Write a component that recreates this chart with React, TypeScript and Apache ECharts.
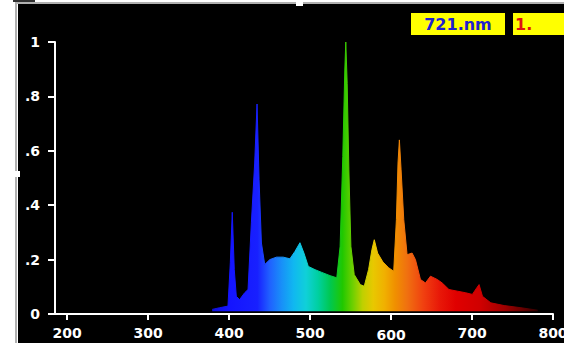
import React, { useEffect, useRef } from 'react';
import * as echarts from 'echarts';

// Spectrum: wavelength (nm) vs relative intensity
const wavelengths = [
  379.1, 388.2, 398.6, 401.5, 403.9, 406.4, 408.9, 413.0, 419.2, 423.4,
  427.5, 431.6, 434.5, 437.0, 439.9, 444.0, 450.3, 458.5, 466.8, 475.1,
  481.3, 487.5, 492.4, 497.8, 506.1, 514.4, 524.7, 533.0, 537.1, 540.4,
  542.9, 544.1, 545.8, 547.9, 550.4, 554.5, 562.0, 566.9, 572.3, 576.4,
  579.3, 583.4, 590.0, 597.0, 603.3, 606.6, 608.6, 610.3, 612.4, 615.7,
  619.8, 626.0, 630.1, 636.3, 642.5, 648.7, 657.0, 663.2, 671.5, 681.8,
  692.2, 700.4, 705.8, 708.7, 712.9, 723.2, 739.7, 760.4, 781.1,
];
const intensities = [
  0.017, 0.023, 0.029, 0.188, 0.374, 0.163, 0.065, 0.053, 0.078, 0.09,
  0.335, 0.555, 0.772, 0.494, 0.261, 0.182, 0.2, 0.209, 0.209, 0.203,
  0.23, 0.262, 0.224, 0.175, 0.163, 0.153, 0.141, 0.133, 0.249, 0.579,
  0.897, 1.0, 0.848, 0.53, 0.249, 0.145, 0.108, 0.102, 0.164, 0.237,
  0.273, 0.224, 0.191, 0.17, 0.157, 0.347, 0.555, 0.64, 0.53, 0.347,
  0.218, 0.224, 0.2, 0.127, 0.114, 0.139, 0.127, 0.114, 0.09, 0.084,
  0.078, 0.072, 0.096, 0.108, 0.065, 0.041, 0.031, 0.023, 0.014,
];

const xTickValues = [200, 300, 400, 500, 600, 700, 800];
const yTickValues = [0, 0.2, 0.4, 0.6, 0.8, 1];
const yTickLabels = ['0', '.2', '.4', '.6', '.8', '1'];

// wavelength -> displayed colour
const colourNm = [379, 400, 435, 450, 465, 480, 495, 510, 525, 540, 553, 565, 578, 592, 605, 620, 640, 660, 680, 710, 740, 765, 781];
const colourHex = [
  '#1010d8', '#1414ff', '#1820ff', '#2060ff', '#1890f8', '#10b8f0', '#10d0d8', '#00d0a0',
  '#00c850', '#20c800', '#70d000', '#c0d000', '#e8c800', '#f0b000', '#f09000', '#f07010',
  '#f04010', '#e81808', '#e00000', '#d00000', '#a00000', '#600000', '#300000',
];

const readoutText = '721.nm';
const readoutValue = '1.';

const FONT = '"DejaVu Sans", "Liberation Sans", Arial, sans-serif';

export default function App() {
  const ref = useRef<HTMLDivElement>(null);

  useEffect(() => {
    if (!ref.current) return;
    const chart = echarts.init(ref.current, null, { renderer: 'svg' });
    const first = wavelengths[0];
    const last = wavelengths[wavelengths.length - 1];
    const stops = colourNm.map((nm, i) => ({
      offset: Math.min(1, Math.max(0, (nm - first) / (last - first))),
      color: colourHex[i],
    }));
    const grad = () => new echarts.graphic.LinearGradient(0, 0, 1, 0, stops);

    const labelStyle = {
      color: '#ffffff',
      fontFamily: FONT,
      fontWeight: 'bold' as const,
      fontSize: 14,
    };

    chart.setOption({
      animation: false,
      backgroundColor: '#000000',
      grid: {
        left: 55,
        right: 11,
        top: 42,
        bottom: 29,
        containLabel: false,
        outerBoundsMode: 'none',
      },
      xAxis: {
        type: 'value',
        min: 185,
        max: 800,
        axisLine: { show: true, lineStyle: { color: '#ffffff', width: 2 } },
        axisTick: {
          show: true,
          customValues: xTickValues,
          length: 6,
          lineStyle: { color: '#ffffff', width: 2 },
        },
        axisLabel: {
          customValues: xTickValues,
          margin: 12,
          hideOverlap: false,
          ...labelStyle,
          formatter: (v: number) => (v === 600 ? `{low|${v}}` : `{std|${v}}`),
          rich: {
            std: { ...labelStyle },
            low: { ...labelStyle, padding: [2, 0, 0, 0] },
          },
        },
        splitLine: { show: false },
      },
      yAxis: {
        type: 'value',
        min: 0,
        max: 1,
        interval: 0.2,
        axisLine: { show: true, lineStyle: { color: '#ffffff', width: 2 } },
        axisTick: { show: true, length: 7, lineStyle: { color: '#ffffff', width: 2 } },
        axisLabel: {
          margin: 15,
          ...labelStyle,
          formatter: (v: number) => {
            const idx = yTickValues.findIndex((t) => Math.abs(t - v) < 1e-6);
            return idx >= 0 ? yTickLabels[idx] : '';
          },
        },
        splitLine: { show: false },
      },
      series: [
        {
          type: 'line',
          data: wavelengths.map((w, i) => [w, intensities[i]]),
          showSymbol: false,
          smooth: false,
          lineStyle: { width: 1, color: grad() },
          areaStyle: { color: grad(), opacity: 1, origin: 0.01 },
          z: 3,
        },
      ],
      graphic: [
        // page margin around the black panel
        { type: 'rect', shape: { x: 0, y: 0, width: 15, height: 343 }, style: { fill: '#ffffff' }, z: 10 },
        { type: 'rect', shape: { x: 0, y: 0, width: 564, height: 2 }, style: { fill: '#ffffff' }, z: 10 },
        { type: 'rect', shape: { x: 15, y: 2, width: 2, height: 341 }, style: { fill: '#b0b0b0' }, z: 10 },
        { type: 'rect', shape: { x: 17, y: 2, width: 547, height: 2 }, style: { fill: '#b0b0b0' }, z: 10 },
        { type: 'rect', shape: { x: 17, y: 4, width: 1, height: 339 }, style: { fill: '#ffffff' }, z: 10 },
        { type: 'rect', shape: { x: 13, y: 0, width: 22, height: 2 }, style: { fill: '#303030' }, z: 11 },
        // selection handles
        { type: 'rect', shape: { x: 296, y: 0, width: 7, height: 6 }, style: { fill: '#ffffff' }, z: 11 },
        { type: 'rect', shape: { x: 14, y: 171, width: 6, height: 6 }, style: { fill: '#ffffff' }, z: 11 },
        // readout boxes
        { type: 'rect', shape: { x: 411, y: 13, width: 94, height: 22 }, style: { fill: '#ffff00' }, z: 10 },
        { type: 'rect', shape: { x: 513, y: 13, width: 60, height: 22 }, style: { fill: '#ffff00' }, z: 10 },
        {
          type: 'text',
          x: 458,
          y: 24,
          z: 12,
          style: {
            text: readoutText,
            fill: '#2020d0',
            fontFamily: FONT,
            fontWeight: 'bold',
            fontSize: 16,
            align: 'center',
            verticalAlign: 'middle',
          },
        },
        {
          type: 'text',
          x: 515,
          y: 24,
          z: 12,
          style: {
            text: readoutValue,
            fill: '#e01010',
            fontFamily: FONT,
            fontWeight: 'bold',
            fontSize: 16,
            align: 'left',
            verticalAlign: 'middle',
          },
        },
      ],
    });

    return () => chart.dispose();
  }, []);

  return (
    <div
      ref={ref}
      style={{ position: 'fixed', left: 0, top: 0, width: 564, height: 343 }}
    />
  );
}
